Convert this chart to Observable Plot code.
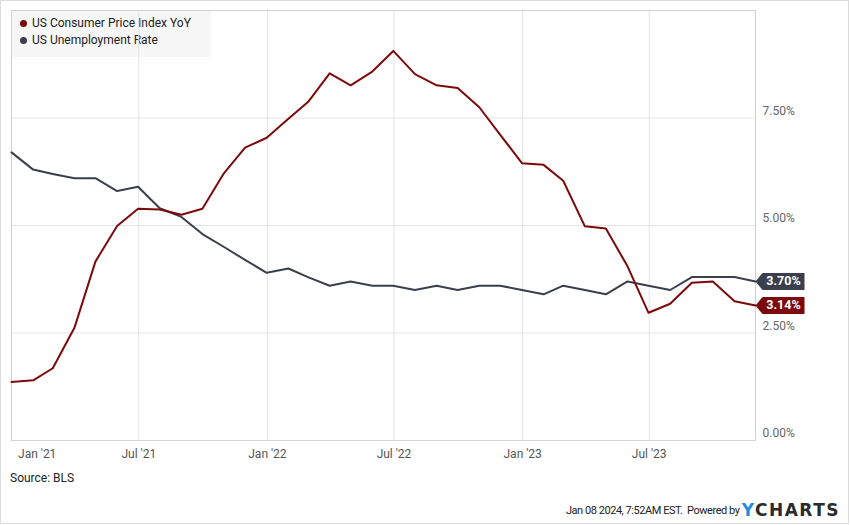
<!DOCTYPE html>
<html>
<head>
<meta charset="utf-8">
<script src="https://cdn.jsdelivr.net/npm/d3@7"></script>
<script src="https://cdn.jsdelivr.net/npm/@observablehq/plot@0.6"></script>
<style>
  html, body { margin: 0; padding: 0; background: #fff; }
  body { width: 850px; height: 525px; position: relative; overflow: hidden; font-family: Roboto, sans-serif; }
  #outer { position: absolute; left: 0; top: 0; width: 849px; height: 524px; box-sizing: border-box; border: 1px solid #dcdcdc; }
  #legend { position: absolute; left: 11px; top: 10px; width: 200px; height: 47px; background: #f7f7f7; z-index: 0; }
  .li { position: absolute; left: 21px; font-size: 12px; line-height: 16px; color: #222; white-space: nowrap; }
  .li i { position: absolute; left: -12px; top: 5px; width: 7px; height: 7px; border-radius: 50%; }
  #chart { position: absolute; left: 0; top: 0; z-index: 1; }
  #source { position: absolute; left: 10px; top: 470px; font-size: 12px; line-height: 16px; color: #222; }
  #footer { position: absolute; right: 10px; top: 501px; font-size: 11px; letter-spacing: -0.45px; line-height: 18px; color: #222; white-space: nowrap; }
  #footer b { font-family: "DejaVu Sans", sans-serif; font-size: 17px; font-weight: bold; letter-spacing: 1.5px; color: #2b2b2b; vertical-align: -2px; }
  #footer b span { color: #1b8fe0; }
</style>
</head>
<body>
<div id="outer"></div>
<div id="legend">
  <div class="li" style="top:5px"><i style="background:#7c0a0a"></i>US Consumer Price Index YoY</div>
  <div class="li" style="top:22px"><i style="background:#3b3e4d"></i>US Unemployment Rate</div>
</div>
<div id="chart"></div>
<div id="source">Source: BLS</div>
<div id="footer">Jan 08 2024, 7:52AM EST.&nbsp; Powered by <b><span>Y</span>CHARTS</b></div>
<script>
const dates = [
  "2020-12-31","2021-01-31","2021-02-28","2021-03-31","2021-04-30","2021-05-31",
  "2021-06-30","2021-07-31","2021-08-31","2021-09-30","2021-10-31","2021-11-30",
  "2021-12-31","2022-01-31","2022-02-28","2022-03-31","2022-04-30","2022-05-31",
  "2022-06-30","2022-07-31","2022-08-31","2022-09-30","2022-10-31","2022-11-30",
  "2022-12-31","2023-01-31","2023-02-28","2023-03-31","2023-04-30","2023-05-31",
  "2023-06-30","2023-07-31","2023-08-31","2023-09-30","2023-10-31","2023-11-30"
];
const cpiYoY = [
  1.36,1.40,1.68,2.62,4.16,4.99,
  5.39,5.37,5.25,5.39,6.22,6.81,
  7.04,7.48,7.87,8.54,8.26,8.58,
  9.06,8.52,8.26,8.20,7.75,7.11,
  6.45,6.41,6.04,4.98,4.93,4.05,
  2.97,3.18,3.67,3.70,3.24,3.14
];
const unemployment = [
  6.7,6.3,6.2,6.1,6.1,5.8,
  5.9,5.4,5.2,4.8,4.5,4.2,
  3.9,4.0,3.8,3.6,3.7,3.6,
  3.6,3.5,3.6,3.5,3.6,3.6,
  3.5,3.4,3.6,3.5,3.4,3.7,
  3.6,3.5,3.8,3.8,3.8,3.7
];
const xTickDates = ["2021-01-01","2021-07-01","2022-01-01","2022-07-01","2023-01-01","2023-07-01"];
const xTickLabels = ["Jan '21","Jul '21","Jan '22","Jul '22","Jan '23","Jul '23"];
const yTicks = [0, 2.5, 5, 7.5];
const yGrid = [2.5, 5, 7.5];

const cpiColor = "#7c0a0a";
const unColor = "#3b3e4d";

const data = dates.map((d, i) => ({date: new Date(d), cpi: cpiYoY[i], unemp: unemployment[i]}));
const last = [data[data.length - 1]];
const tickDates = xTickDates.map(d => new Date(d));
const labelOf = d => xTickLabels[tickDates.findIndex(t => +t === +d)];

const flag = {
  draw(ctx) {
    ctx.moveTo(0, 0);
    ctx.lineTo(7, -8.5);
    ctx.lineTo(49, -8.5);
    ctx.lineTo(49, 8.5);
    ctx.lineTo(7, 8.5);
    ctx.closePath();
  }
};

const chart = Plot.plot({
  width: 850,
  height: 470,
  marginLeft: 11,
  marginRight: 95,
  marginTop: 10,
  marginBottom: 30,
  style: {background: "transparent", fontFamily: "Roboto, sans-serif", fontSize: "12px", overflow: "visible"},
  x: {type: "utc", domain: [new Date(dates[0]), new Date(dates[dates.length - 1])]},
  y: {domain: [0, 10]},
  marks: [
    Plot.gridX(tickDates.slice(1), {stroke: "#e4e4e4", strokeOpacity: 1}),
    Plot.gridY(yGrid, {stroke: "#e4e4e4", strokeOpacity: 1}),
    Plot.frame({stroke: "#d2d2d2"}),
    Plot.axisX(tickDates.slice(0, 1), {tickSize: 0, tickPadding: 9, dx: 25, tickFormat: labelOf, color: "#555", fontSize: 12}),
    Plot.axisX(tickDates.slice(1), {tickSize: 0, tickPadding: 9, tickFormat: labelOf, color: "#555", fontSize: 12}),
    Plot.axisY(yTicks, {anchor: "right", tickSize: 0, tickPadding: 7, dy: -7, textAnchor: "start",
      tickFormat: d => d.toFixed(2) + "%", color: "#666", fontSize: 12}),
    Plot.line(data, {x: "date", y: "unemp", stroke: unColor, strokeWidth: 2}),
    Plot.line(data, {x: "date", y: "cpi", stroke: cpiColor, strokeWidth: 2}),
    Plot.dot(last, {x: "date", y: "unemp", symbol: flag, fill: unColor, stroke: null, r: 5}),
    Plot.dot(last, {x: "date", y: "cpi", symbol: flag, fill: cpiColor, stroke: null, r: 5}),
    Plot.text(last, {x: "date", y: "unemp", text: d => d.unemp.toFixed(2) + "%", dx: 28, fill: "white", fontWeight: "bold", fontSize: 12.5}),
    Plot.text(last, {x: "date", y: "cpi", text: d => d.cpi.toFixed(2) + "%", dx: 28, fill: "white", fontWeight: "bold", fontSize: 12.5})
  ]
});
document.getElementById("chart").appendChild(chart);
</script>
</body>
</html>
